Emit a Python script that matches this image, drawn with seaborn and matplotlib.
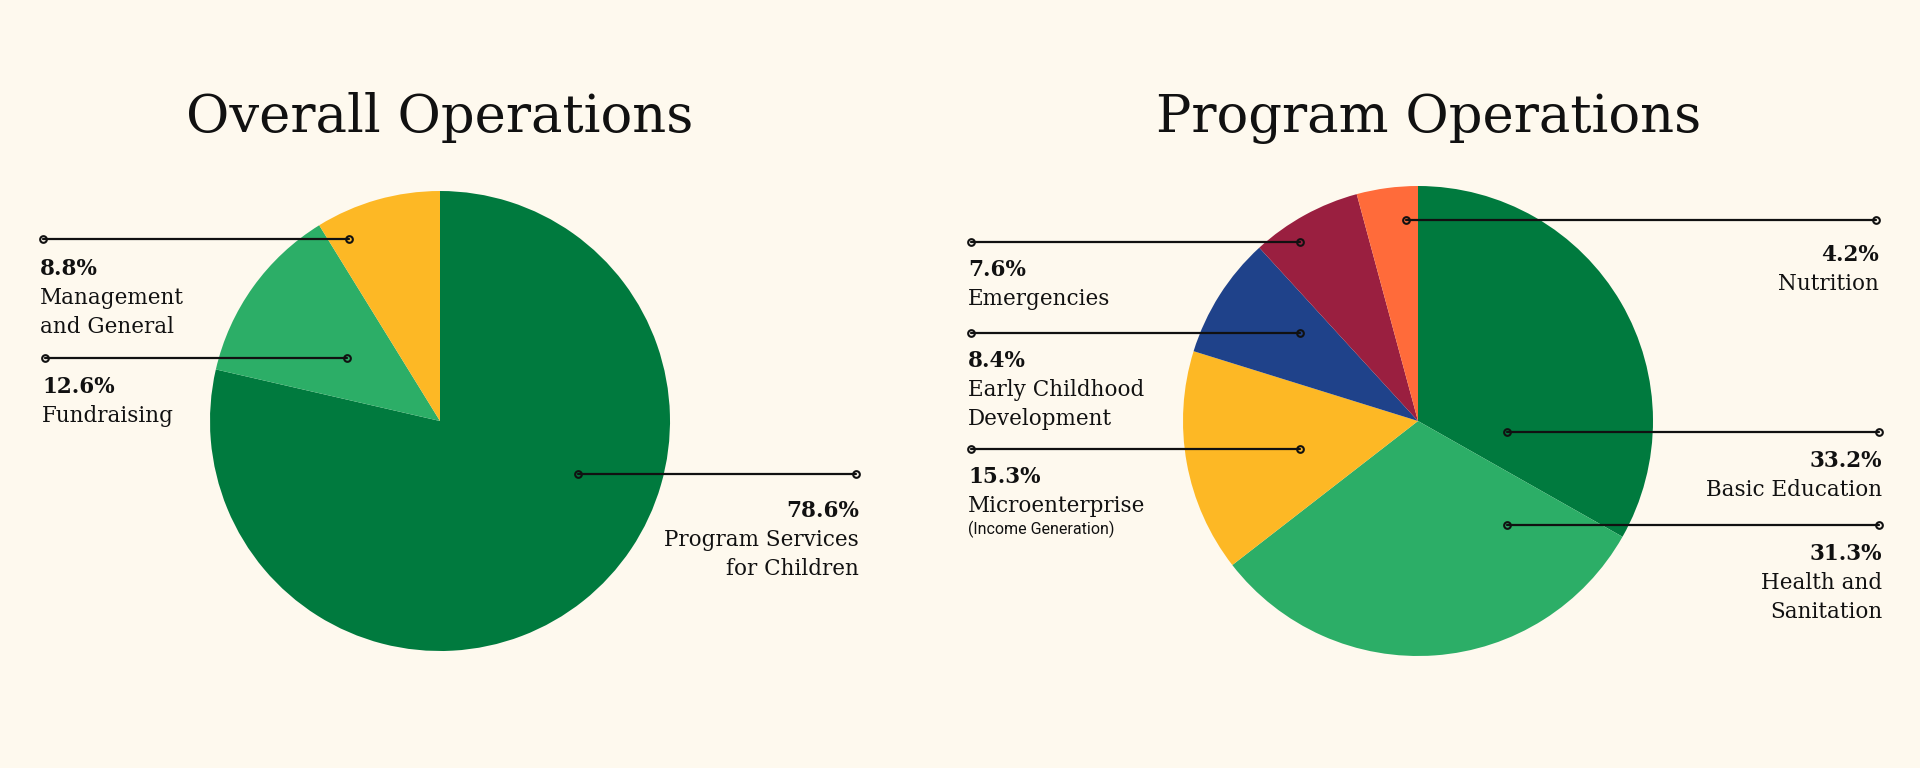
import numpy as np
import pandas as pd
import seaborn as sns
import matplotlib.pyplot as plt

# data
overall_labels = ['Program Services\nfor Children', 'Fundraising', 'Management\nand General']
overall_values = [78.6, 12.6, 8.8]
overall_colors = ['#007A3E', '#2CAE67', '#FDB825']

program_labels = ['Basic Education', 'Health and\nSanitation', 'Microenterprise',
                  'Early Childhood\nDevelopment', 'Emergencies', 'Nutrition']
program_values = [33.2, 31.3, 15.3, 8.4, 7.6, 4.2]
program_colors = ['#007A3E', '#2CAE67', '#FDB825', '#1F428A', '#9A1F40', '#FF6B3A']
program_notes = ['', '', '(Income Generation)', '', '', '']

BG = '#FEF9EE'
W, H = 1920, 768

# callout layout in pixels (line y, inner x, outer x, first baseline y)
overall_callouts = [(474, 578, 856, 517), (358, 347, 45, 393), (239, 349, 43, 275)]
program_callouts = [(432, 1507, 1879, 467), (525, 1507, 1879, 560), (449, 1300, 971, 483),
                    (333, 1300, 971, 367), (242, 1300, 971, 276), (220, 1406, 1876, 261)]

sns.set_theme(style='white', rc={'figure.facecolor': BG, 'axes.facecolor': BG})
plt.rcParams['font.family'] = ['DejaVu Serif', 'DejaVu Sans']

fig = plt.figure(figsize=(W / 100, H / 100), dpi=100)
ax = fig.add_axes([0, 0, 1, 1])


def draw_pie(values, colors, center, radius):
    ax.pie(values, colors=colors, startangle=90, counterclock=False,
           center=(center[0], H - center[1]), radius=radius,
           wedgeprops={'linewidth': 0})


def draw_callouts(labels, values, callouts, notes=None):
    for i, (lab, val, (ly, xin, xout, ty)) in enumerate(zip(labels, values, callouts)):
        ax.plot([xin, xout], [H - ly, H - ly], color='#111111', lw=1.6,
                marker='o', ms=4.8, mfc='none', mec='#111111', mew=1.5, zorder=5)
        right = xout > xin
        ha = 'right' if right else 'left'
        tx = xout + 3 if right else xout - 3
        ax.text(tx, H - ty, f'{val}%', ha=ha, va='baseline', fontsize=15.5,
                fontweight='bold', color='#111111')
        for j, line in enumerate(lab.split('\n')):
            ax.text(tx, H - ty - 29 * (j + 1), line, ha=ha, va='baseline',
                    fontsize=15.5, color='#111111')
        if notes and notes[i]:
            n = len(lab.split('\n'))
            ax.text(tx, H - ty - 29 * n - 22, notes[i], ha=ha, va='baseline',
                    fontsize=11.5, family=['Roboto', 'DejaVu Sans'], color='#111111')


draw_pie(overall_values, overall_colors, (440, 421), 230)
draw_pie(program_values, program_colors, (1418, 421), 235)
draw_callouts(overall_labels, overall_values, overall_callouts)
draw_callouts(program_labels, program_values, program_callouts, program_notes)

ax.text(440, H - 132, 'Overall Operations', ha='center', va='baseline', fontsize=38, color='#111111')
ax.text(1429, H - 132, 'Program Operations', ha='center', va='baseline', fontsize=38, color='#111111')

ax.set_xlim(0, W)
ax.set_ylim(0, H)
ax.set_aspect('equal')
ax.axis('off')

fig.savefig('out.png', dpi=100, facecolor=BG)
